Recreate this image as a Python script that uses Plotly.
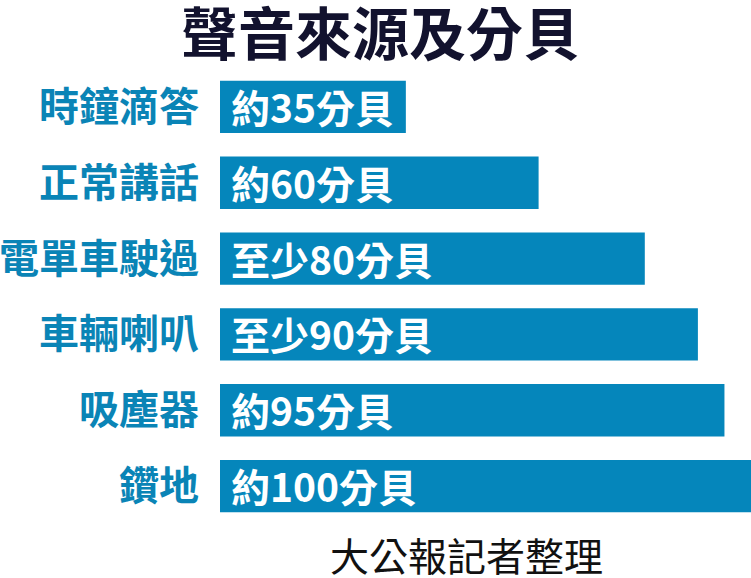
import plotly.graph_objects as go

categories = ["時鐘滴答", "正常講話", "電單車駛過", "車輛喇叭", "吸塵器", "鑽地"]
values = [35, 60, 80, 90, 95, 100]
bar_labels = ["約35分貝", "約60分貝", "至少80分貝", "至少90分貝", "約95分貝", "約100分貝"]
title_text = "聲音來源及分貝"
source_text = "大公報記者整理"

FONT = "Noto Sans CJK TC"
BLUE = "#0586bb"
LABEL_BLUE = "#0a84b6"

fig = go.Figure()
fig.add_trace(go.Bar(
    x=values, y=categories, orientation="h",
    marker=dict(color=BLUE, line=dict(width=0)),
    hoverinfo="skip",
))

for cat, lab in zip(categories, bar_labels):
    fig.add_annotation(
        x=0, y=cat, xref="x", yref="y", text=lab, showarrow=False,
        xanchor="left", yanchor="middle", xshift=9, yshift=1,
        font=dict(family=FONT, size=39, color="white", weight="bold"),
    )

fig.add_annotation(
    x=0.302, y=1.085, xref="paper", yref="paper", text=title_text,
    showarrow=False, xanchor="center", yanchor="middle",
    font=dict(family=FONT, size=57, color="#12122e", weight="bold"),
)
fig.add_annotation(
    x=0.465, y=-0.066, xref="paper", yref="paper", text=source_text,
    showarrow=False, xanchor="center", yanchor="middle",
    font=dict(family=FONT, size=39, color="#111111"),
)

fig.update_layout(
    width=751, height=578,
    margin=dict(l=220, r=0, t=69, b=54, pad=0, autoexpand=False),
    paper_bgcolor="white", plot_bgcolor="white",
    bargap=0.31,
    showlegend=False,
    xaxis=dict(range=[0, 100], visible=False, fixedrange=True, automargin=False),
    yaxis=dict(
        autorange="reversed", showgrid=False, zeroline=False, showline=False,
        ticks="", ticklabelstandoff=20, automargin=False,
        tickfont=dict(family=FONT, size=40, color=LABEL_BLUE, weight="bold"),
        fixedrange=True,
    ),
)

fig.write_html(
    "out.html",
    config={"displayModeBar": False},
    post_script="document.body.style.margin='0';document.body.style.overflow='hidden';",
)
